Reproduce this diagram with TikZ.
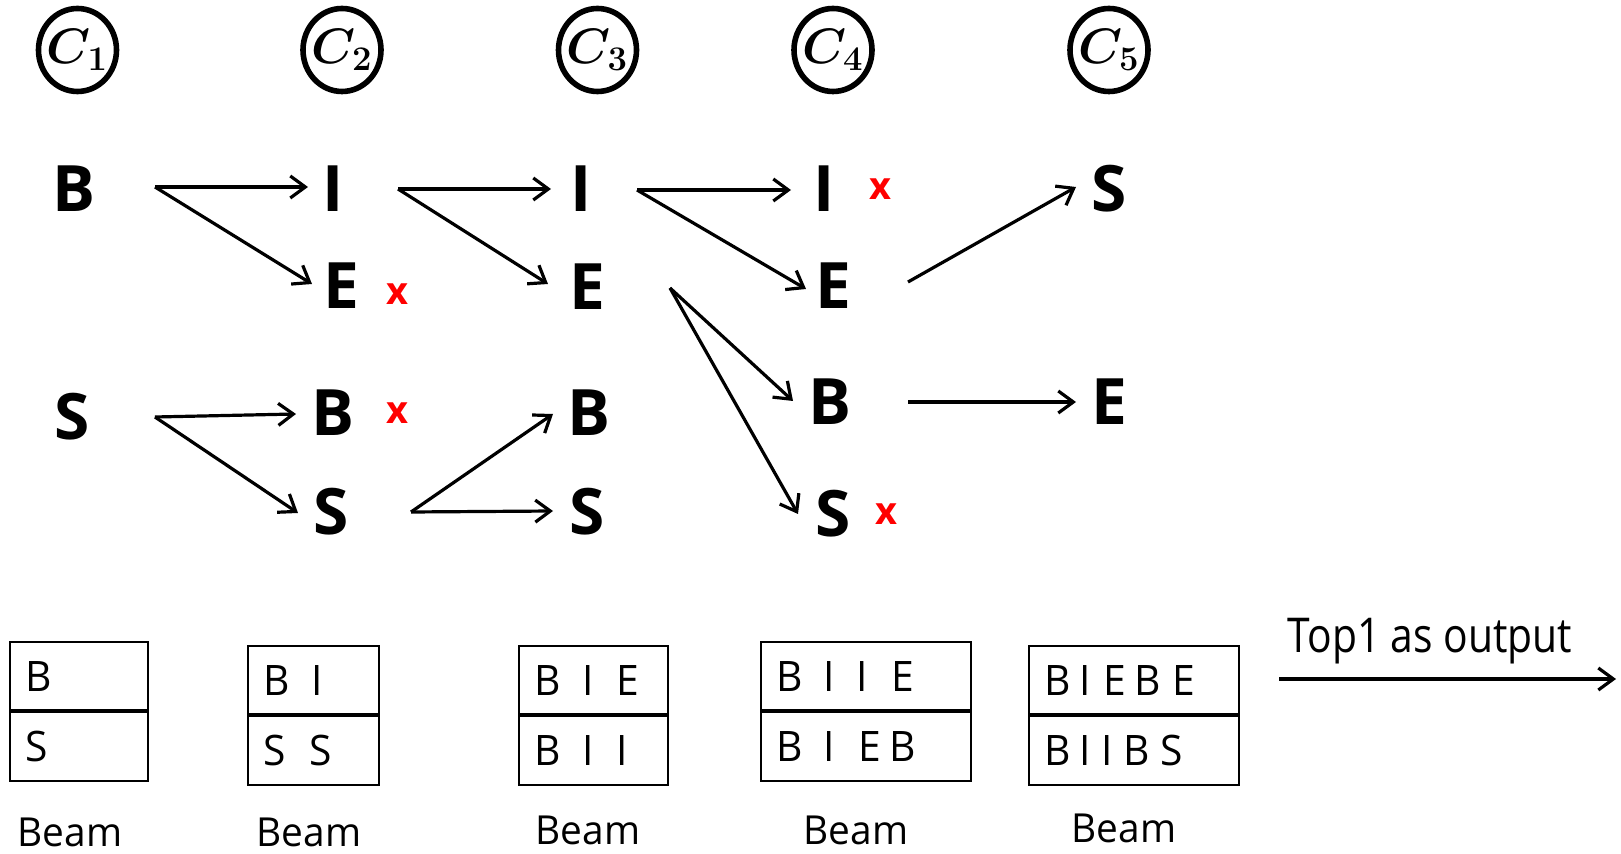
\documentclass[tikz,border=0pt]{standalone}
\usepackage{fontspec}
\setmainfont{Open Sans}
\newfontfamily\narrowsans[FakeStretch=0.85]{Open Sans}
\newfontfamily\beamsans[FakeStretch=0.97]{Open Sans}
\usetikzlibrary{arrows.meta,shapes.geometric}
\newcommand\gap[1]{\hspace{#1pt}}

\tikzset{
  tok/.style={font=\fontsize{32}{36}\selectfont\bfseries, inner sep=0pt},
  cross/.style={text=red, font=\fontsize{19}{22}\selectfont\bfseries, inner sep=0pt},
  stepcircle/.style={draw, ellipse, line width=2.8pt, minimum width=39pt,
    minimum height=41.5pt, inner sep=-6pt, font=\fontsize{23}{27}\selectfont\boldmath},
  arr/.style={-{Straight Barb[length=7.5pt,width=11pt]}, line width=1.6pt},
  cell/.style={draw, line width=1.1pt, inner xsep=7.5pt, inner ysep=0pt,
    minimum height=34pt, anchor=north west, align=left,
    font=\beamsans\fontsize{21}{24}\selectfont},
  caption/.style={font=\beamsans\fontsize{20}{24}\selectfont, inner sep=0pt},
}

\begin{document}
\begin{tikzpicture}[x=0.5pt,y=-0.5pt]
\path[use as bounding box, fill=white] (0,0) rectangle (1621,854);

% step markers
\node[stepcircle] (c1) at (77.5,50) {$C_1$};
\node[stepcircle] (c2) at (342,50) {$C_2$};
\node[stepcircle] (c3) at (597.5,50) {$C_3$};
\node[stepcircle] (c4) at (833,50) {$C_4$};
\node[stepcircle] (c5) at (1109,50) {$C_5$};

% candidate labels per step
\node[tok] (b1) at (74,189) {B};
\node[tok] (s1) at (72,417) {S};

\node[tok] (i2) at (333,189) {I};
\node[tok] (e2) at (341,286) {E};
\node[cross] (xe2) at (397,294) {x};
\node[tok] (bb2) at (333,413) {B};
\node[cross] (xb2) at (397,413) {x};
\node[tok] (s2) at (331,512) {S};

\node[tok] (i3) at (581,189) {I};
\node[tok] (e3) at (587,287) {E};
\node[tok] (bb3) at (589,413) {B};
\node[tok] (s3) at (587,512) {S};

\node[tok] (i4) at (824,189) {I};
\node[cross] (xi4) at (880,189) {x};
\node[tok] (e4) at (833,286) {E};
\node[tok] (bb4) at (830,402) {B};
\node[tok] (s4) at (833,514) {S};
\node[cross] (xs4) at (886,514) {x};

\node[tok] (s5) at (1109,189) {S};
\node[tok] (e5) at (1109,402) {E};

% expansions
\draw[arr] ([shift={(81,-2)}]b1.center) -- ([shift={(-25,-2)}]i2.center);
\draw[arr] ([shift={(81,-2)}]b1.center) -- ([shift={(-29,-2)}]e2.center);
\draw[arr] ([shift={(83,0)}]s1.center) -- ([shift={(-37,1)}]bb2.center);
\draw[arr] ([shift={(83,0)}]s1.center) -- ([shift={(-33,1)}]s2.center);

\draw[arr] ([shift={(65,0)}]i2.center) -- ([shift={(-30,0)}]i3.center);
\draw[arr] ([shift={(65,0)}]i2.center) -- ([shift={(-39,-3)}]e3.center);
\draw[arr] ([shift={(80,0)}]s2.center) -- ([shift={(-36,1)}]bb3.center);
\draw[arr] ([shift={(80,0)}]s2.center) -- ([shift={(-34,-1)}]s3.center);

\draw[arr] ([shift={(56,1)}]i3.center) -- ([shift={(-33,1)}]i4.center);
\draw[arr] ([shift={(56,1)}]i3.center) -- ([shift={(-27,3)}]e4.center);
\draw[arr] ([shift={(83,1)}]e3.center) -- ([shift={(-37,-1)}]bb4.center);
\draw[arr] ([shift={(83,1)}]e3.center) -- ([shift={(-35,0)}]s4.center);

\draw[arr] ([shift={(75,-4)}]e4.center) -- ([shift={(-33,-2)}]s5.center);
\draw[arr] ([shift={(78,0)}]bb4.center) -- ([shift={(-33,0)}]e5.center);

% beam contents
\node[cell, text width=54pt] (bm1a) at (9,641) {B};
\node[cell, text width=54pt, minimum height=34.5pt] (bm1b) at (bm1a.south west) {S};

\node[cell, text width=50.5pt] (bm2a) at (247,645) {B\gap{11.2}I};
\node[cell, text width=50.5pt, minimum height=34.5pt] (bm2b) at (bm2a.south west) {S\gap{12.2}S};

\node[cell, text width=59.5pt] (bm3a) at (518,645) {B\gap{11.2}I\gap{11.2}E};
\node[cell, text width=59.5pt, minimum height=34.5pt] (bm3b) at (bm3a.south west) {B\gap{11.2}I\gap{11.35}I};

\node[cell, text width=90pt] (bm4a) at (760,641) {B\gap{10.7}I\gap{10.85}I\gap{11.7}E};
\node[cell, text width=90pt, minimum height=34.5pt] (bm4b) at (bm4a.south west) {B\gap{10.7}I\gap{11.7}E\gap{4.2}B};

\node[cell, text width=90pt] (bm5a) at (1028,645) {B\gap{4.7}I\gap{6.2}E\gap{4.2}B\gap{5.6}E};
\node[cell, text width=90pt, minimum height=34.5pt] (bm5b) at (bm5a.south west) {B\gap{4.7}I\gap{5.35}I\gap{5.2}B\gap{5.3}S};

\node[caption] (cap1) at (70,832) {Beam};
\node[caption] (cap2) at (309,832) {Beam};
\node[caption] (cap3) at (588,830) {Beam};
\node[caption] (cap4) at (856,830) {Beam};
\node[caption] (cap5) at (1124,828) {Beam};

% final output
\node[caption, font=\narrowsans\fontsize{24}{28}\selectfont] (top) at (1430,641) {Top1 as output};
\coordinate (outL) at (1279,679);
\coordinate (outR) at (1616,679);
\draw[arr] (outL) -- (outR);
\end{tikzpicture}
\end{document}
